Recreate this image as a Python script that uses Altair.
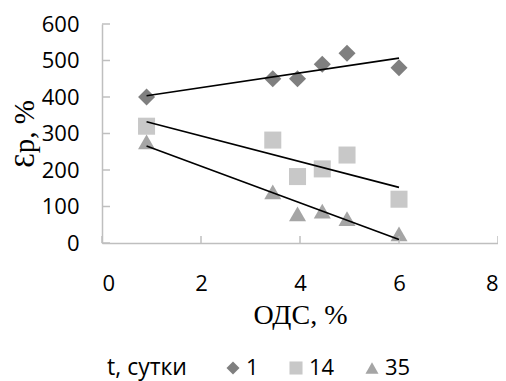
import altair as alt
import pandas as pd

# Data
ods = [0.9, 3.45, 3.95, 4.45, 4.95, 6.0]
ep_1 = [400, 450, 450, 490, 520, 480]
ep_14 = [320, 282, 182, 203, 241, 120]
ep_35 = [277, 140, 80, 87, 67, 25]
series = ["1", "14", "35"]
colors = ["#7f7f7f", "#c8c8c8", "#a5a5a5"]
shapes = ["diamond", "square", "triangle-up"]
x_ticks = [0, 2, 4, 6, 8]
y_ticks = [0, 100, 200, 300, 400, 500, 600]

rows = []
for name, vals in zip(series, [ep_1, ep_14, ep_35]):
    for xv, yv in zip(ods, vals):
        rows.append({"x": xv, "y": yv, "t": name})
df = pd.DataFrame(rows)

SANS = "Open Sans"
SERIF = "Liberation Serif"
AX = "#bfbfbf"

xs = alt.Scale(domain=[0, 8], nice=False, zero=False)
ys = alt.Scale(domain=[0, 600], nice=False)

x_axis = alt.Axis(
    values=x_ticks, title="ОДС, %", grid=False, ticks=False, tickSize=0,
    domainColor=AX, domainWidth=1.5, labelOverlap=False,
    labelFont=SANS, labelFontSize=22, labelColor="black",
    labelBaseline="alphabetic", labelPadding=47,
    titleFont=SERIF, titleFontSize=28, titleFontWeight="normal", titleColor="black",
    titleBaseline="alphabetic", titleY=80, titleX=198, titleAlign="center",
)
y_axis = alt.Axis(
    values=y_ticks, title="Ɛр, %", grid=False, ticks=False, tickSize=0,
    domainColor=AX, domainWidth=1.5, labelOverlap=False, labelBound=False,
    labelFont=SANS, labelFontSize=22, labelColor="black", labelPadding=23,
    titleFont=SERIF, titleFontSize=29, titleFontWeight="normal", titleColor="black",
    titleAngle=270, titleAlign="center", titleBaseline="bottom",
    titleX=-63, titleY=109.5,
)

legend = alt.Legend(
    title="t, сутки", orient="none", legendX=5, legendY=333,
    direction="horizontal", titleOrient="left",
    titleFont=SANS, titleFontSize=23, titleFontWeight="normal", titleColor="black",
    titlePadding=35, labelLimit=200,
    labelFont=SANS, labelFontSize=22, labelColor="black",
    symbolSize=170, symbolStrokeWidth=0, labelOffset=2, columnPadding=26,
)

base = alt.Chart(df)

points = base.mark_point(filled=True, size=290, opacity=1).encode(
    x=alt.X("x:Q", scale=xs, axis=x_axis),
    y=alt.Y("y:Q", scale=ys, axis=y_axis),
    color=alt.Color("t:N", scale=alt.Scale(domain=series, range=colors), legend=legend),
    shape=alt.Shape("t:N", scale=alt.Scale(domain=series, range=shapes), legend=legend),
)

lines = base.transform_regression("x", "y", groupby=["t"]).mark_line(
    color="black", strokeWidth=1.6
).encode(
    x=alt.X("x:Q", scale=xs, axis=x_axis),
    y=alt.Y("y:Q", scale=ys, axis=y_axis),
    detail="t:N",
)

ytick_df = pd.DataFrame({"v": y_ticks})
xtick_df = pd.DataFrame({"v": x_ticks})

yticks = alt.Chart(ytick_df).mark_rule(color=AX, strokeWidth=1.5).encode(
    y=alt.Y("v:Q", scale=ys, axis=y_axis),
    x=alt.value(0), x2=alt.value(8),
)
xticks = alt.Chart(xtick_df).mark_rule(color=AX, strokeWidth=1.5).encode(
    x=alt.X("v:Q", scale=xs, axis=x_axis),
    y=alt.value(219), y2=alt.value(212),
)

chart = alt.layer(points, yticks, xticks, lines).properties(
    width=396, height=219,
    autosize=alt.AutoSizeParams(type="none"),
    padding={"left": 94, "top": 16, "right": 0, "bottom": 145},
).configure_view(stroke=None)

chart.save("out.html", embed_options={"renderer": "svg", "actions": False})
